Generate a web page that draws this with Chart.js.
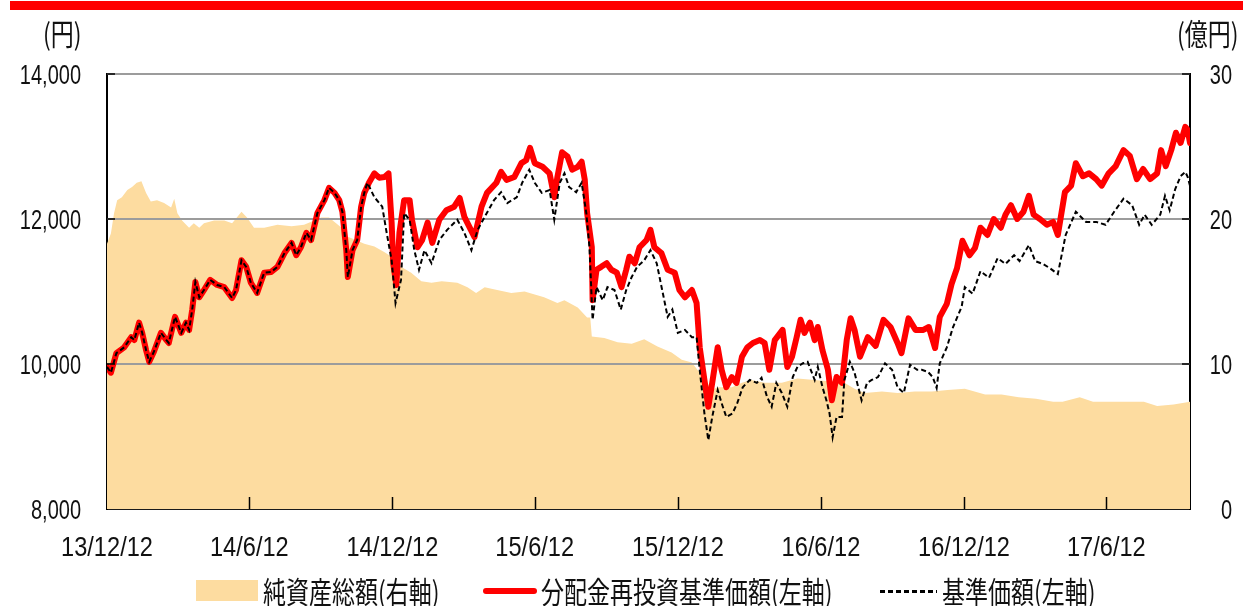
<!DOCTYPE html>
<html>
<head>
<meta charset="utf-8">
<script src="https://cdn.jsdelivr.net/npm/chart.js@4/dist/chart.umd.min.js"></script>
<style>
  html, body { margin:0; padding:0; background:#fff; }
  body { width:1243px; height:606px; overflow:hidden; position:relative; font-family:"Noto Sans CJK JP", sans-serif; color:#111; }
  #topbar { position:absolute; left:10px; top:1px; width:1233px; height:9px; background:#ff0000; }
  #c { position:absolute; left:0; top:0; }
  .t { position:absolute; font-size:23px; line-height:23px; white-space:nowrap; transform-origin:0 0; transform:scaleY(1.28); }
  .box { position:absolute; }
</style>
</head>
<body>
<div id="topbar"></div>
<canvas id="c" width="1243" height="606"></canvas>
<div class="t" style="left:43px;top:18px;">(円)</div>
<div class="t" style="left:1177px;top:18px;">(億円)</div>
<div class="box" style="left:196px;top:580px;width:62px;height:21px;background:#FDDCA0;"></div>
<div class="t" style="left:263px;top:576px;">純資産総額(右軸)</div>
<div class="box" style="left:483px;top:588px;width:54px;height:6px;background:#ff0000;border-radius:3px;"></div>
<div class="t" style="left:541px;top:576px;">分配金再投資基準価額(左軸)</div>
<div class="box" style="left:880px;top:590px;width:57px;height:3px;background:repeating-linear-gradient(to right,#000 0 5px,transparent 5px 8px);"></div>
<div class="t" style="left:942px;top:576px;">基準価額(左軸)</div>
<script>
// x positions: days since 2013-12-12
const tickDays = [0, 182, 365, 547, 730, 913, 1096, 1278];
const tickLabels = ['13/12/12', '14/6/12', '14/12/12', '15/6/12', '15/12/12', '16/6/12', '16/12/12', '17/6/12'];
const leftTickLabels = ['8,000', '10,000', '12,000', '14,000'];
const rightTickLabels = ['0', '10', '20', '30'];

// 分配金再投資基準価額 (円)
const reinvDays = [0,5,12,22,31,35,41,45,50,54,
  60,69,76,79,87,95,101,105,109,113,
  118,124,132,141,150,160,165,172,178,184,
  192,201,210,218,227,236,242,248,255,261,
  269,278,284,291,297,301,306,308,314,320,
  325,329,335,342,348,355,360,364,366,370,
  374,380,387,390,397,403,410,416,425,434,
  444,451,457,470,479,486,498,504,511,521,
  530,536,541,547,557,566,572,576,582,589,
  595,602,607,611,614,620,621,626,632,639,
  645,652,658,664,668,675,681,690,695,700,
  709,717,726,732,739,748,754,758,764,769,
  774,781,786,792,799,805,812,819,826,835,
  841,847,854,864,870,876,882,887,892,899,
  905,909,915,922,927,933,940,946,951,956,
  963,973,983,993,1002,1011,1016,1025,1034,1044,
  1051,1059,1065,1074,1080,1087,1094,1103,1110,1117,
  1126,1134,1143,1149,1156,1164,1172,1179,1185,1193,
  1202,1210,1216,1225,1233,1239,1248,1256,1265,1272,
  1281,1290,1300,1308,1317,1325,1334,1343,1348,1354,
  1361,1367,1373,1379,1382,1385];
const reinvNav = [9960,9880,10150,10230,10370,10330,10570,10430,10190,10030,
  10170,10430,10330,10290,10650,10430,10570,10470,10750,11130,
  10920,11020,11160,11090,11060,10910,11020,11430,11340,11120,
  10980,11260,11270,11340,11530,11670,11500,11610,11810,11710,
  12080,12260,12430,12360,12260,12100,11570,11200,11570,11710,
  12170,12360,12500,12630,12570,12580,12630,11950,11390,11090,
  11810,12260,12260,11990,11610,11710,11950,11670,11990,12120,
  12170,12290,12030,11750,12170,12360,12500,12650,12540,12580,
  12770,12810,12980,12770,12720,12630,12300,12580,12920,12860,
  12680,12720,12790,12540,12080,11610,10880,11300,11340,11390,
  11300,11260,11060,11300,11480,11390,11610,11710,11850,11610,
  11530,11300,11260,11020,10920,11020,10840,10230,9780,9410,
  9740,10230,9920,9680,9820,9740,10100,10230,10290,10330,
  10290,9920,10330,10470,9960,10100,10370,10610,10430,10570,
  10330,10510,10190,9920,9500,9820,9740,10330,10630,10470,
  10100,10370,10250,10610,10510,10290,10150,10630,10470,10470,
  10510,10220,10650,10830,11100,11320,11700,11500,11600,11880,
  11780,12000,11880,12060,12190,12000,12100,12320,12060,12000,
  11920,11960,11780,12370,12460,12770,12590,12630,12550,12460,
  12630,12730,12950,12870,12550,12690,12550,12630,12950,12730,
  12950,13190,13050,13270,13230,13050];

// 基準価額 (円)
const navDays = [0,5,12,22,31,35,41,45,50,54,
  60,69,76,79,87,95,101,105,109,113,
  118,124,132,141,150,160,165,172,178,184,
  192,201,210,218,227,236,242,248,255,261,
  269,278,284,291,297,301,306,308,314,320,
  325,329,333,342,352,357,364,369,376,380,
  387,393,399,406,415,425,435,448,457,466,
  474,483,495,504,512,524,531,540,547,556,
  566,572,579,585,591,600,607,613,617,621,
  626,634,640,649,657,664,671,678,687,695,
  703,710,717,723,730,739,748,754,758,764,
  769,774,781,786,792,800,806,813,822,831,
  837,844,850,856,863,870,877,883,890,896,
  905,909,915,920,924,928,933,940,943,950,
  956,965,972,978,986,995,1004,1011,1019,1027,
  1036,1042,1050,1056,1061,1065,1074,1082,1093,1097,
  1107,1117,1128,1139,1149,1160,1167,1179,1187,1197,
  1206,1216,1226,1239,1252,1265,1277,1288,1300,1311,
  1320,1327,1336,1347,1353,1359,1366,1373,1379,1382,
  1385];
const nav = [9960,9880,10150,10230,10370,10330,10570,10430,10190,10030,
  10170,10430,10330,10290,10650,10430,10570,10470,10750,11130,
  10920,11020,11160,11090,11060,10910,11020,11430,11340,11120,
  10980,11260,11270,11340,11530,11670,11500,11610,11810,11710,
  12080,12260,12430,12360,12260,12100,11570,11200,11570,11710,
  12170,12360,12500,12300,12170,11850,11430,10840,11160,12080,
  11990,11570,11300,11570,11390,11710,11850,11990,11810,11570,
  11850,12030,12260,12370,12220,12300,12500,12680,12500,12360,
  12400,11990,12500,12630,12440,12370,12500,12080,11610,10610,
  11060,10880,11060,11020,10750,11020,11200,11340,11430,11570,
  11390,11020,10650,10750,10430,10470,10370,10370,9920,9320,
  8950,9270,9640,9460,9270,9320,9460,9680,9780,9740,
  9810,9550,9410,9740,9600,9410,9820,9960,10010,10030,
  9780,9960,9680,9500,9320,8990,9270,9270,9780,10030,
  9880,9500,9740,9780,9820,10010,9920,9680,9600,9990,
  9920,9920,9890,9820,9670,10010,10230,10510,10790,11060,
  10970,11280,11190,11460,11380,11500,11420,11640,11420,11380,
  11320,11240,11780,12100,11960,11960,11920,12100,12280,12190,
  11920,12060,11920,12060,12320,12120,12410,12590,12650,12580,
  12460];

// 純資産総額 (億円)
const assetDays = [0,5,9,13,19,26,32,38,44,50,
  56,64,73,82,86,90,96,105,111,118,
  124,137,150,160,172,179,188,201,218,236,
  252,265,274,284,291,300,307,316,329,342,
  355,364,376,389,402,415,428,448,461,472,
  483,499,517,534,547,559,576,585,602,614,
  618,620,636,653,671,687,704,722,735,748,
  755,764,773,781,799,812,824,841,863,883,
  905,927,943,956,969,991,1011,1033,1055,1075,
  1097,1123,1144,1166,1188,1210,1222,1244,1261,1286,
  1308,1326,1343,1364,1385];
const assets = [18.3,19.0,20.4,21.3,21.5,22.0,22.2,22.5,22.6,21.8,
  21.2,21.3,21.1,20.8,21.4,20.4,19.9,19.4,19.7,19.4,
  19.7,19.9,19.9,19.7,20.5,20.1,19.4,19.4,19.6,19.5,
  19.6,19.9,20.1,20.1,19.8,19.4,18.8,18.6,18.3,18.1,
  17.7,17.4,16.7,16.3,15.7,15.6,15.7,15.6,15.3,14.9,
  15.3,15.1,14.9,15.0,14.8,14.6,14.2,14.4,13.9,13.2,
  13.2,11.9,11.8,11.5,11.4,11.7,11.2,10.8,10.3,10.1,
  9.6,9.1,8.2,8.4,8.4,8.7,8.9,8.7,8.7,9.0,
  8.9,8.8,8.7,8.3,8.0,8.1,8.0,8.1,8.1,8.2,
  8.3,7.9,7.9,7.7,7.6,7.4,7.4,7.7,7.4,7.4,
  7.4,7.4,7.1,7.2,7.4];

const pts = (xs, ys) => xs.map((x, i) => ({ x: x, y: ys[i] }));

function sText(ctx, s, x, y, align, sx, sy) {
  ctx.save();
  ctx.translate(x, y);
  ctx.scale(sx, sy);
  ctx.textAlign = align;
  ctx.textBaseline = 'middle';
  ctx.fillText(s, 0, 0);
  ctx.restore();
}

const decor = {
  id: 'decor',
  afterDatasetDraw(chart, args) {
    if (args.meta.yAxisID !== 'yR') return;
    const { ctx, chartArea: a } = chart;
    const yL = chart.scales.yL;
    ctx.save();
    ctx.strokeStyle = '#9c9c9c';
    ctx.lineWidth = 2;
    yL.ticks.forEach(t => {
      if (t.value === yL.min) return;
      const y = Math.round(yL.getPixelForValue(t.value));
      ctx.beginPath(); ctx.moveTo(a.left, y); ctx.lineTo(a.right, y); ctx.stroke();
    });
    ctx.restore();
  },
  afterDraw(chart) {
    const { ctx, chartArea: a } = chart;
    const { x, yL, yR } = chart.scales;
    ctx.save();
    ctx.strokeStyle = '#000';
    ctx.lineWidth = 1.5;
    x.ticks.forEach(t => {
      if (t.value === x.min) return;
      const px = Math.round(x.getPixelForValue(t.value)) + 0.5;
      ctx.beginPath(); ctx.moveTo(px, a.bottom); ctx.lineTo(px, a.bottom - 12); ctx.stroke();
    });
    yL.ticks.forEach(t => {
      if (t.value === yL.min) return;
      const py = Math.round(yL.getPixelForValue(t.value));
      ctx.beginPath(); ctx.moveTo(a.left, py); ctx.lineTo(a.left + 8, py); ctx.stroke();
    });
    yR.ticks.forEach(t => {
      if (t.value === yR.min) return;
      const py = Math.round(yR.getPixelForValue(t.value));
      ctx.beginPath(); ctx.moveTo(a.right, py); ctx.lineTo(a.right - 8, py); ctx.stroke();
    });
    ctx.fillStyle = '#111';
    ctx.font = '20px "Liberation Sans", Arial, sans-serif';
    yL.ticks.forEach((t, i) => {
      sText(ctx, leftTickLabels[i], 81, yL.getPixelForValue(t.value) + 3, 'right', 1.0, 1.35);
    });
    yR.ticks.forEach((t, i) => {
      sText(ctx, rightTickLabels[i], 1232, yR.getPixelForValue(t.value) + 3, 'right', 1.0, 1.35);
    });
    x.ticks.forEach((t, i) => {
      sText(ctx, tickLabels[i], x.getPixelForValue(t.value), 549, 'center', 1.18, 1.35);
    });
    ctx.restore();
  }
};

new Chart(document.getElementById('c'), {
  data: {
    datasets: [
      {
        type: 'line', label: '基準価額(左軸)', data: pts(navDays, nav), yAxisID: 'yL',
        borderColor: '#000', borderWidth: 2, borderDash: [5, 3], pointRadius: 0, tension: 0, fill: false, order: 0
      },
      {
        type: 'line', label: '分配金再投資基準価額(左軸)', data: pts(reinvDays, reinvNav), yAxisID: 'yL',
        borderColor: '#ff0000', borderWidth: 6, pointRadius: 0, tension: 0, fill: false, order: 1,
        borderJoinStyle: 'round', borderCapStyle: 'round'
      },
      {
        type: 'line', label: '純資産総額(右軸)', data: pts(assetDays, assets), yAxisID: 'yR',
        borderWidth: 0, borderColor: 'rgba(0,0,0,0)', backgroundColor: '#FDDCA0', pointRadius: 0, tension: 0,
        fill: 'origin', order: 2
      }
    ]
  },
  options: {
    responsive: false,
    animation: false,
    devicePixelRatio: 1,
    layout: { padding: { top: 74, left: 0, right: 0, bottom: 0 } },
    plugins: { legend: { display: false }, tooltip: { enabled: false } },
    scales: {
      x: {
        type: 'linear', min: 0, max: 1385,
        grid: { display: false },
        border: { display: true, color: '#1a1a1a', width: 2 },
        ticks: { display: false },
        afterBuildTicks: s => { s.ticks = tickDays.map(v => ({ value: v })); },
        afterFit: s => { s.height = 97; },
        z: 1
      },
      yL: {
        type: 'linear', position: 'left', min: 8000, max: 14000,
        ticks: { display: false, stepSize: 2000 },
        grid: { display: false },
        border: { display: true, color: '#000', width: 2 },
        afterFit: s => { s.width = 107; },
        z: 1
      },
      yR: {
        type: 'linear', position: 'right', min: 0, max: 30,
        ticks: { display: false, stepSize: 10 },
        grid: { display: false },
        border: { display: true, color: '#000', width: 2 },
        afterFit: s => { s.width = 53; },
        z: 1
      }
    }
  },
  plugins: [decor]
});
</script>
</body>
</html>
